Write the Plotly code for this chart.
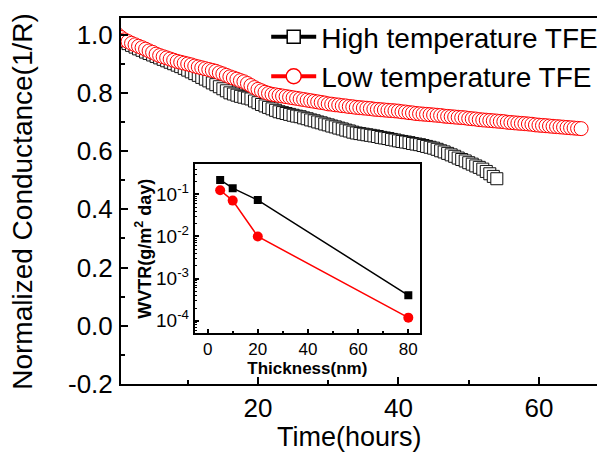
import plotly.graph_objects as go

# ---------------- main chart data ----------------
high_time = [0.0, 0.5, 1.0, 1.5, 2.0, 2.5, 3.0, 3.5, 4.0, 4.5, 5.0, 5.5, 6.0, 6.5, 7.0, 7.5,
             8.0, 8.5, 9.0, 9.5, 10.0, 10.5, 11.0, 11.5, 12.0, 12.5, 13.0, 13.5, 14.0, 14.5,
             15.0, 15.5, 16.0, 16.5, 17.0, 17.5, 18.0, 18.5, 19.0, 19.5, 20.0, 20.5, 21.0,
             21.5, 22.0, 22.5, 23.0, 23.5, 24.0, 24.5, 25.0, 25.5, 26.0, 26.5, 27.0, 27.5,
             28.0, 28.5, 29.0, 29.5, 30.0, 30.5, 31.0, 31.5, 32.0, 32.5, 33.0, 33.5, 34.0,
             34.5, 35.0, 35.5, 36.0, 36.5, 37.0, 37.5, 38.0, 38.5, 39.0, 39.5, 40.0, 40.5,
             41.0, 41.5, 42.0, 42.5, 43.0, 43.5, 44.0, 44.5, 45.0, 45.5, 46.0, 46.5, 47.0,
             47.5, 48.0, 48.5, 49.0, 49.5, 50.0, 50.5, 51.0, 51.5, 52.0, 52.5, 53.0, 53.5, 54.0]
high_cond = [0.990, 0.983, 0.976, 0.969, 0.963, 0.957, 0.951, 0.946, 0.940, 0.935, 0.930,
             0.925, 0.920, 0.915, 0.910, 0.905, 0.900, 0.895, 0.890, 0.884, 0.878, 0.872,
             0.866, 0.860, 0.853, 0.847, 0.841, 0.834, 0.828, 0.821, 0.814, 0.807, 0.800,
             0.796, 0.792, 0.788, 0.785, 0.782, 0.779, 0.772, 0.766, 0.760, 0.755, 0.750,
             0.745, 0.740, 0.735, 0.732, 0.729, 0.726, 0.723, 0.720, 0.718, 0.714, 0.711,
             0.707, 0.704, 0.700, 0.697, 0.693, 0.690, 0.686, 0.683, 0.679, 0.676, 0.672,
             0.669, 0.665, 0.662, 0.660, 0.658, 0.656, 0.654, 0.652, 0.650, 0.647, 0.645,
             0.643, 0.640, 0.638, 0.635, 0.633, 0.631, 0.629, 0.626, 0.624, 0.622, 0.619,
             0.616, 0.613, 0.610, 0.606, 0.601, 0.597, 0.592, 0.587, 0.582, 0.576, 0.571,
             0.566, 0.560, 0.555, 0.549, 0.544, 0.538, 0.530, 0.522, 0.513, 0.505]

low_time = [0.0, 0.5, 1.0, 1.5, 2.0, 2.5, 3.0, 3.5, 4.0, 4.5, 5.0, 5.5, 6.0, 6.5, 7.0, 7.5,
            8.0, 8.5, 9.0, 9.5, 10.0, 10.5, 11.0, 11.5, 12.0, 12.5, 13.0, 13.5, 14.0, 14.5,
            15.0, 15.5, 16.0, 16.5, 17.0, 17.5, 18.0, 18.5, 19.0, 19.5, 20.0, 20.5, 21.0,
            21.5, 22.0, 22.5, 23.0, 23.5, 24.0, 24.5, 25.0, 25.5, 26.0, 26.5, 27.0, 27.5,
            28.0, 28.5, 29.0, 29.5, 30.0, 30.5, 31.0, 31.5, 32.0, 32.5, 33.0, 33.5, 34.0,
            34.5, 35.0, 35.5, 36.0, 36.5, 37.0, 37.5, 38.0, 38.5, 39.0, 39.5, 40.0, 40.5,
            41.0, 41.5, 42.0, 42.5, 43.0, 43.5, 44.0, 44.5, 45.0, 45.5, 46.0, 46.5, 47.0,
            47.5, 48.0, 48.5, 49.0, 49.5, 50.0, 50.5, 51.0, 51.5, 52.0, 52.5, 53.0, 53.5,
            54.0, 54.5, 55.0, 55.5, 56.0, 56.5, 57.0, 57.5, 58.0, 58.5, 59.0, 59.5, 60.0,
            60.5, 61.0, 61.5, 62.0, 62.5, 63.0, 63.5, 64.0, 64.5, 65.0, 65.5, 66.0]
low_cond = [1.000, 0.990, 0.982, 0.976, 0.970, 0.965, 0.960, 0.955, 0.950, 0.944, 0.939,
            0.933, 0.928, 0.924, 0.920, 0.916, 0.912, 0.908, 0.905, 0.902, 0.899, 0.896,
            0.892, 0.889, 0.886, 0.883, 0.880, 0.877, 0.874, 0.869, 0.865, 0.860, 0.855,
            0.851, 0.847, 0.842, 0.838, 0.832, 0.825, 0.818, 0.812, 0.807, 0.802, 0.798,
            0.795, 0.793, 0.791, 0.789, 0.787, 0.785, 0.783, 0.781, 0.779, 0.777, 0.775,
            0.773, 0.771, 0.769, 0.767, 0.765, 0.762, 0.761, 0.759, 0.758, 0.756, 0.755,
            0.753, 0.752, 0.750, 0.749, 0.748, 0.747, 0.746, 0.744, 0.743, 0.742, 0.741,
            0.740, 0.739, 0.738, 0.737, 0.735, 0.734, 0.732, 0.731, 0.729, 0.728, 0.727,
            0.726, 0.725, 0.724, 0.723, 0.722, 0.720, 0.719, 0.718, 0.717, 0.716, 0.715,
            0.714, 0.712, 0.711, 0.710, 0.708, 0.707, 0.706, 0.705, 0.704, 0.703, 0.702,
            0.701, 0.699, 0.698, 0.697, 0.696, 0.695, 0.694, 0.693, 0.692, 0.690, 0.689,
            0.688, 0.687, 0.686, 0.685, 0.684, 0.683, 0.682, 0.681, 0.680, 0.679, 0.678, 0.677]

main_yticks = [-0.2, 0.0, 0.2, 0.4, 0.6, 0.8, 1.0]
main_yticklabels = ["-0.2", "0.0", "0.2", "0.4", "0.6", "0.8", "1.0"]
main_xticks = [20, 40, 60]

# ---------------- inset data ----------------
thickness = [5, 10, 20, 80]
wvtr_high = [0.22, 0.14, 0.073, 4.0e-4]
wvtr_low = [0.125, 0.071, 0.010, 1.18e-4]
inset_xticks = [0, 20, 40, 60, 80]
inset_yticks = [1e-4, 1e-3, 1e-2, 1e-1]
inset_yticklabels = ["10<sup>-4</sup>", "10<sup>-3</sup>", "10<sup>-2</sup>", "10<sup>-1</sup>"]

FONT = "Liberation Sans, Arial, sans-serif"
BLACK = "#000000"
RED = "#ff0000"

fig = go.Figure()

# main curves
fig.add_trace(go.Scatter(
    x=high_time, y=high_cond, mode="lines+markers", showlegend=False,
    line=dict(color=BLACK, width=2),
    marker=dict(symbol="square", size=12, color="white", line=dict(color="#111111", width=1)),
))
fig.add_trace(go.Scatter(
    x=low_time, y=low_cond, mode="lines+markers", showlegend=False,
    line=dict(color=RED, width=2),
    marker=dict(symbol="circle", size=14, color="white", line=dict(color=RED, width=1)),
))

# legend entries
fig.add_trace(go.Scatter(
    x=[None], y=[None], mode="lines+markers", name="High temperature TFE",
    line=dict(color=BLACK, width=4),
    marker=dict(symbol="square", size=13, color="white", line=dict(color=BLACK, width=1.5)),
))
fig.add_trace(go.Scatter(
    x=[None], y=[None], mode="lines+markers", name="Low temperature TFE",
    line=dict(color=RED, width=4),
    marker=dict(symbol="circle", size=15, color="white", line=dict(color=RED, width=1.5)),
))

# inset
fig.add_trace(go.Scatter(
    x=thickness, y=wvtr_high, mode="lines+markers", showlegend=False,
    xaxis="x2", yaxis="y2",
    line=dict(color=BLACK, width=1.5),
    marker=dict(symbol="square", size=8, color=BLACK),
))
fig.add_trace(go.Scatter(
    x=thickness, y=wvtr_low, mode="lines+markers", showlegend=False,
    xaxis="x2", yaxis="y2",
    line=dict(color=RED, width=1.5),
    marker=dict(symbol="circle", size=10, color=RED),
))

minor_log = []
for e in [1e-5, 1e-4, 1e-3, 1e-2, 1e-1]:
    for m in range(2, 10):
        minor_log.append(m * e)

# the page body has an 8px margin, so the figure is sized to fit the window
fig.update_layout(
    width=597, height=445,
    margin=dict(l=113, r=0, t=10, b=69),
    paper_bgcolor="white", plot_bgcolor="white",
    font=dict(family=FONT, color=BLACK),
    showlegend=True,
    legend=dict(
        x=0.30, y=1.016, xanchor="left", yanchor="top",
        font=dict(size=28, family=FONT),
        bgcolor="rgba(0,0,0,0)", borderwidth=0,
        itemwidth=45, traceorder="normal",
    ),
    xaxis=dict(
        domain=[0, 1], range=[0.5, 69.4], automargin=False,
        showline=True, linewidth=2, linecolor=BLACK, mirror=True,
        showgrid=False, zeroline=False,
        ticks="inside", ticklen=7, tickwidth=2, tickcolor=BLACK,
        tickvals=main_xticks, tickfont=dict(size=26),
        minor=dict(tickvals=[10, 30, 50], ticks="inside", ticklen=4, tickwidth=2, tickcolor=BLACK),
    ),
    yaxis=dict(
        domain=[0, 1], range=[-0.2, 1.057], automargin=False,
        showline=True, linewidth=2, linecolor=BLACK, mirror=False,
        showgrid=False, zeroline=False,
        ticks="inside", ticklen=7, tickwidth=2, tickcolor=BLACK,
        tickvals=main_yticks, ticktext=main_yticklabels, tickfont=dict(size=26),
        ticklabelstandoff=1,
        minor=dict(tickvals=[-0.1, 0.1, 0.3, 0.5, 0.7, 0.9], ticks="inside", ticklen=4,
                   tickwidth=2, tickcolor=BLACK),
    ),
    xaxis2=dict(
        domain=[0.152, 0.618], anchor="y2", range=[-5.2, 84.7],
        showline=True, linewidth=1.5, linecolor=BLACK, mirror=True,
        showgrid=False, zeroline=False,
        ticks="inside", ticklen=5, tickwidth=1.5, tickcolor=BLACK,
        tickvals=inset_xticks, tickfont=dict(size=17),
        minor=dict(tickvals=[10, 30, 50, 70], ticks="inside", ticklen=3, tickwidth=1.5,
                   tickcolor=BLACK),
        title=dict(text="<b>Thickness(nm)</b>", font=dict(size=17), standoff=0),
    ),
    yaxis2=dict(
        domain=[0.1385, 0.601], anchor="x2", type="log", range=[-4.3, -0.28],
        showline=True, linewidth=1.5, linecolor=BLACK, mirror=True,
        showgrid=False, zeroline=False,
        ticks="inside", ticklen=5, tickwidth=1.5, tickcolor=BLACK,
        tickvals=inset_yticks, ticktext=inset_yticklabels, tickfont=dict(size=19),
        ticklabelstandoff=0,
        minor=dict(tickvals=minor_log, ticks="inside", ticklen=3, tickwidth=1, tickcolor=BLACK),
        title=dict(text="<b>WVTR(g/m<sup>2</sup> day)</b>", font=dict(size=18), standoff=0),
    ),
    annotations=[
        dict(text="Normalized Conductance(1/R)", xref="paper", yref="paper",
             x=-0.205, y=0.5, xanchor="center", yanchor="middle", textangle=-90,
             showarrow=False, font=dict(size=28, family=FONT, color=BLACK)),
        dict(text="Time(hours)", xref="paper", yref="paper",
             x=0.473, y=-0.1448, xanchor="center", yanchor="middle",
             showarrow=False, font=dict(size=27, family=FONT, color=BLACK)),
    ],
)

fig.write_html("out.html")
